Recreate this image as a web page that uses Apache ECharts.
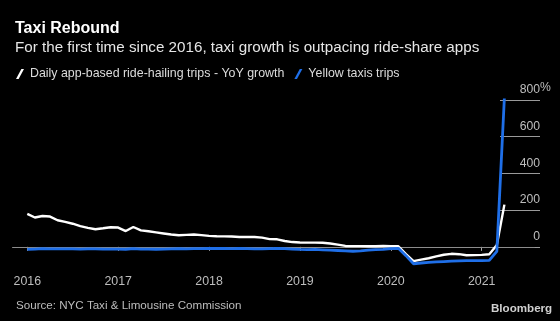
<!DOCTYPE html>
<html>
<head>
<meta charset="utf-8">
<script src="https://cdn.jsdelivr.net/npm/echarts@6/dist/echarts.min.js"></script>
<style>
html,body{margin:0;padding:0;background:#000;}
#chart{width:560px;height:321px;}
</style>
</head>
<body>
<div id="chart"></div>
<script>
// Monthly categories (Jan 2016 - Apr 2021)
var months = [
  '2016-01','2016-02','2016-03','2016-04','2016-05','2016-06','2016-07','2016-08','2016-09','2016-10','2016-11','2016-12',
  '2017-01','2017-02','2017-03','2017-04','2017-05','2017-06','2017-07','2017-08','2017-09','2017-10','2017-11','2017-12',
  '2018-01','2018-02','2018-03','2018-04','2018-05','2018-06','2018-07','2018-08','2018-09','2018-10','2018-11','2018-12',
  '2019-01','2019-02','2019-03','2019-04','2019-05','2019-06','2019-07','2019-08','2019-09','2019-10','2019-11','2019-12',
  '2020-01','2020-02','2020-03','2020-04','2020-05','2020-06','2020-07','2020-08','2020-09','2020-10','2020-11','2020-12',
  '2021-01','2021-02','2021-03','2021-04'
];
// Empty axis room before and after the data
var padBefore = ['2015-11','2015-12'];
var padAfter = ['2021-05','2021-06','2021-07','2021-08'];

// Daily app-based ride-hailing trips - YoY growth (%)
var appTrips = [
  180,160,168,165,145,136,126,113,103,96,101,107,
  105,86,108,90,85,79,73,67,63,65,67,64,
  60,58,57,56,54,54,54,50,42,41,32,26,
  24,23,23,22,18,12,5,4,4,3,3,5,
  4,3,-40,-78,-70,-62,-52,-43,-38,-40,-46,-45,
  -44,-40,10,230
];
// Yellow taxis trips - YoY growth (%)
var taxiTrips = [
  -14,-12,-10,-11,-11,-11,-11,-12,-11,-11,-12,-12,
  -12,-13,-10,-12,-12,-13,-12,-11,-10,-11,-10,-10,
  -9,-8,-9,-10,-9,-10,-11,-11,-10,-9,-10,-12,
  -14,-15,-14,-16,-18,-20,-22,-24,-22,-18,-15,-14,
  -10,-8,-48,-92,-88,-85,-82,-80,-78,-76,-75,-75,
  -75,-74,-25,815
];
var yTicks = [0,200,400,600,800];
var seriesNames = ['Daily app-based ride-hailing trips - YoY growth','Yellow taxis trips'];

var categories = padBefore.concat(months, padAfter);
function padData(arr){
  var out = padBefore.map(function(){return null;});
  return out.concat(arr);
}
function isJan(i, v){ return /-01$/.test(v) && v >= '2016'; }

var FONT = 'Liberation Sans, Arial, sans-serif';
var slash = 'path://M0,10 L2.6,10 L8,0 L5.4,0 Z';

var chart = echarts.init(document.getElementById('chart'), null, {renderer:'canvas'});
chart.setOption({
  backgroundColor:'#000',
  animation:false,
  textStyle:{fontFamily:FONT},
  title:[{
    text:'Taxi Rebound',
    subtext:'For the first time since 2016, taxi growth is outpacing ride-share apps',
    left:10, top:16, itemGap:3,
    textStyle:{color:'#fff',fontSize:16,fontWeight:'bold',fontFamily:FONT},
    subtextStyle:{color:'#e6e6e6',fontSize:15.2,fontFamily:FONT}
  },{
    text:'Source: NYC Taxi & Limousine Commission',
    left:11, top:295,
    textStyle:{color:'#bdbdbd',fontSize:11.6,fontWeight:'normal',fontFamily:FONT}
  },{
    text:'Bloomberg',
    left:486, top:298,
    textStyle:{color:'#d0d0d0',fontSize:11.6,fontWeight:'bold',fontFamily:FONT}
  }],
  legend:{
    left:11, top:63,
    itemWidth:8, itemHeight:10, itemGap:10,
    textStyle:{color:'#dcdcdc',fontSize:12.4,fontFamily:FONT,padding:[0,0,0,1]},
    data:[
      {name:seriesNames[0], icon:slash, itemStyle:{color:'#fff'}},
      {name:seriesNames[1], icon:slash, itemStyle:{color:'#1f6fe8'}}
    ],
    selectedMode:false
  },
  grid:[
    {left:12.15, right:25.3, top:100, bottom:55.8},
    {left:520, right:20, top:100, bottom:74.2}
  ],
  xAxis:[{
    type:'category', gridIndex:0, data:categories, boundaryGap:false,
    axisLine:{show:false},
    axisTick:{show:true, interval:isJan, length:4, lineStyle:{color:'#aaa'}},
    axisLabel:{interval:isJan, formatter:function(v){return v.slice(0,4);}, color:'#bdbdbd', fontSize:12.4, margin:10, fontFamily:FONT},
    splitLine:{show:false}
  },{
    type:'value', gridIndex:1, show:false, min:0, max:1
  }],
  yAxis:[{
    type:'value', gridIndex:0, min:-100, max:800, show:false, splitLine:{show:false}
  },{
    type:'value', gridIndex:1, min:0, max:800, interval:200, position:'right',
    axisLine:{show:false},
    axisTick:{show:true, inside:true, length:20, lineStyle:{color:'#9a9a9a', width:1}},
    splitLine:{show:true, lineStyle:{color:'#9a9a9a', width:1}},
    axisLabel:{inside:true, margin:0, verticalAlign:'bottom', padding:[0,0,4,0], color:'#bdbdbd', fontSize:12.2, fontFamily:FONT,
      formatter:function(v){return yTicks.indexOf(v) >= 0 ? String(v) : '';}}
  }],
  graphic:[{
    type:'text', left:540, top:82,
    style:{text:'%', fill:'#bdbdbd', font:'12.2px ' + FONT}
  }],
  series:[{
    name:seriesNames[0], type:'line', xAxisIndex:0, yAxisIndex:0,
    data:padData(appTrips), showSymbol:false, symbol:'none',
    lineStyle:{color:'#fff', width:2.4}, itemStyle:{color:'#fff'},
    z:3,
    markLine:{
      silent:true, symbol:'none', label:{show:false},
      lineStyle:{color:'#8c8c8c', width:1, type:'solid'},
      data:[{yAxis:0}], z:1
    }
  },{
    name:seriesNames[1], type:'line', xAxisIndex:0, yAxisIndex:0,
    data:padData(taxiTrips), showSymbol:false, symbol:'none',
    lineStyle:{color:'#1f6fe8', width:2.8}, itemStyle:{color:'#1f6fe8'},
    z:4
  }]
});
</script>
</body>
</html>
